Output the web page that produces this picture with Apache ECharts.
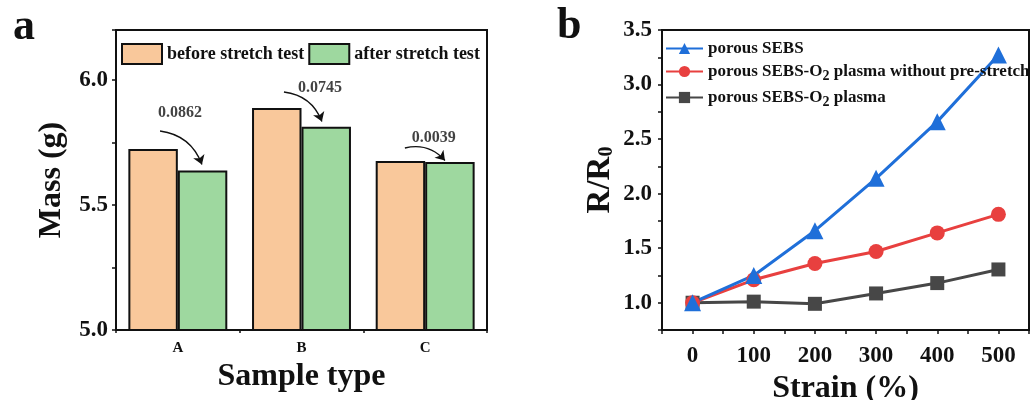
<!DOCTYPE html>
<html>
<head>
<meta charset="utf-8">
<script src="https://cdn.jsdelivr.net/npm/echarts@6/dist/echarts.min.js"></script>
<style>
  html, body { margin: 0; padding: 0; background: #fff; }
  #chart { width: 1032px; height: 400px; }
</style>
</head>
<body>
<div id="chart"></div>
<script>
// 图a 数据
var sampleTypes = ['A', 'B', 'C'];
var massBefore = [5.724, 5.888, 5.676];
var massAfter = [5.638, 5.8135, 5.672];
var massLoss = ['0.0862', '0.0745', '0.0039'];
var massTicks = ['5.0', '5.5', '6.0'];

// 图b 数据
var strain = [0, 100, 200, 300, 400, 500];
var rSebs = [1.0, 1.25, 1.66, 2.14, 2.66, 3.27];
var rPlasmaNoPre = [1.0, 1.21, 1.36, 1.47, 1.64, 1.81];
var rPlasma = [1.0, 1.01, 0.99, 1.085, 1.18, 1.305];
var ratioTicks = ['1.0', '1.5', '2.0', '2.5', '3.0', '3.5'];
var seriesNames = [
  'porous SEBS',
  'porous SEBS-O2 plasma without pre-stretch',
  'porous SEBS-O2 plasma'
];

// 注释位置 (隐藏的 0..3 数值轴坐标)
var notePos = [[0.517, 5.868], [1.65, 5.968], [2.57, 5.768]];
var arrowFrom = [[0.356, 5.796], [1.358, 5.952], [2.336, 5.728]];
var arrowTo = [[0.695, 5.662], [1.665, 5.834], [2.66, 5.678]];

var serif = "'Liberation Serif', 'Times New Roman', serif";
var ink = '#111';

function boldText(size) {
  return { fontFamily: serif, fontWeight: 'bold', fontSize: size, color: ink };
}

var chart = echarts.init(document.getElementById('chart'));

var noteData = [];
var arrowData = [];
for (var i = 0; i < massLoss.length; i++) {
  noteData.push([notePos[i][0], notePos[i][1], massLoss[i]]);
  arrowData.push({ coords: [arrowFrom[i], arrowTo[i]] });
}

var option = {
  backgroundColor: '#fff',
  animation: false,
  title: [
    { text: 'a', left: 8, top: 1, textStyle: boldText(44) },
    { text: 'b', left: 552, top: 0, textStyle: boldText(44) }
  ],
  legend: [
    {
      data: ['before stretch test', 'after stretch test'],
      left: 116, top: 38,
      itemWidth: 40, itemHeight: 20, itemGap: 4,
      icon: 'rect',
      textStyle: boldText(18)
    },
    {
      data: seriesNames,
      orient: 'vertical',
      left: 660, top: 35,
      itemWidth: 37, itemHeight: 14, itemGap: 6,
      formatter: function (name) {
        return name.replace('O2', 'O{sub|2}');
      },
      textStyle: {
        fontFamily: serif, fontWeight: 'bold', fontSize: 17, color: ink,
        rich: { sub: { fontFamily: serif, fontWeight: 'bold', fontSize: 14, color: ink, padding: [9, 0, 0, 0] } }
      }
    }
  ],
  grid: [
    { left: 116, right: 545, top: 30, bottom: 70, show: true, borderColor: ink, borderWidth: 2, outerBoundsMode: 'none' },
    { left: 662, right: 3, top: 30, bottom: 70, show: true, borderColor: ink, borderWidth: 2, outerBoundsMode: 'none' }
  ],
  xAxis: [
    {
      gridIndex: 0, type: 'category', data: sampleTypes,
      name: 'Sample type', nameLocation: 'middle', nameGap: 26,
      nameTextStyle: boldText(32),
      axisLine: { lineStyle: { color: ink, width: 2 } },
      axisTick: { alignWithLabel: true, length: 5, lineStyle: { color: ink, width: 1.5 } },
      axisLabel: Object.assign({ margin: 11 }, boldText(15)),
      splitLine: { show: false }
    },
    {
      gridIndex: 0, type: 'value', min: 0, max: 3, interval: 1, position: 'bottom',
      axisLine: { show: false },
      axisTick: { length: 3, lineStyle: { color: ink, width: 1.5 } },
      axisLabel: { show: false },
      splitLine: { show: false }
    },
    {
      gridIndex: 1, type: 'value', min: -50, max: 550, interval: 50,
      name: 'Strain (%)', nameLocation: 'middle', nameGap: 41,
      nameTextStyle: boldText(32),
      axisLine: { onZero: false, lineStyle: { color: ink, width: 2 } },
      axisTick: { length: 4, lineStyle: { color: ink, width: 1.5 } },
      axisLabel: Object.assign({
        margin: 15,
        formatter: function (v) { return strain.indexOf(v) >= 0 ? String(v) : ''; }
      }, boldText(23)),
      splitLine: { show: false }
    }
  ],
  yAxis: [
    {
      gridIndex: 0, type: 'value', min: 5, max: 6.2, interval: 0.25,
      name: 'Mass (g)', nameLocation: 'middle', nameGap: 48,
      nameTextStyle: boldText(32),
      axisLine: { lineStyle: { color: ink, width: 2 } },
      axisTick: { length: 4, lineStyle: { color: ink, width: 1.5 } },
      axisLabel: Object.assign({
        margin: 8,
        formatter: function (v) { var s = v.toFixed(1); return massTicks.indexOf(s) >= 0 && Math.abs(v - Number(s)) < 1e-6 ? s : ''; }
      }, boldText(23)),
      splitLine: { show: false }
    },
    {
      gridIndex: 1, type: 'value', min: 0.75, max: 3.5, interval: 0.25,
      name: 'R/R{sub|0}', nameLocation: 'middle', nameGap: 45,
      nameTextStyle: Object.assign({
        rich: { sub: { fontFamily: serif, fontWeight: 'bold', fontSize: 20, color: ink, padding: [14, 0, 0, 0] } }
      }, boldText(33)),
      axisLine: { onZero: false, lineStyle: { color: ink, width: 2 } },
      axisTick: { length: 4, lineStyle: { color: ink, width: 1.5 } },
      axisLabel: Object.assign({
        margin: 10,
        formatter: function (v) { var s = v.toFixed(1); return ratioTicks.indexOf(s) >= 0 && Math.abs(v - Number(s)) < 1e-6 ? s : ''; }
      }, boldText(23)),
      splitLine: { show: false }
    }
  ],
  series: [
    {
      name: 'before stretch test', type: 'bar', xAxisIndex: 0, yAxisIndex: 0,
      data: massBefore, barGap: '0%', barCategoryGap: '20%',
      itemStyle: { color: '#f9c89b', borderColor: ink, borderWidth: 2 }
    },
    {
      name: 'after stretch test', type: 'bar', xAxisIndex: 0, yAxisIndex: 0,
      data: massAfter,
      itemStyle: { color: '#9ed89f', borderColor: ink, borderWidth: 2 }
    },
    {
      name: 'notes', type: 'scatter', xAxisIndex: 1, yAxisIndex: 0,
      data: noteData, symbolSize: 1, silent: true,
      itemStyle: { color: 'rgba(0,0,0,0)' },
      label: {
        show: true, position: 'inside',
        formatter: function (p) { return p.value[2]; },
        fontFamily: serif, fontWeight: 'bold', fontSize: 16, color: ink
      }
    },
    {
      name: 'arrows', type: 'lines', coordinateSystem: 'cartesian2d',
      xAxisIndex: 1, yAxisIndex: 0, silent: true,
      symbol: ['none', 'arrow'], symbolSize: 9,
      lineStyle: { color: ink, width: 1.3, type: 'solid', curveness: 0.3, opacity: 1 },
      data: arrowData
    },
    {
      name: seriesNames[2], type: 'line', xAxisIndex: 2, yAxisIndex: 1,
      data: strain.map(function (x, i) { return [x, rPlasma[i]]; }),
      symbol: 'rect', symbolSize: 14,
      lineStyle: { color: '#474747', width: 3 },
      itemStyle: { color: '#474747' }
    },
    {
      name: seriesNames[1], type: 'line', xAxisIndex: 2, yAxisIndex: 1,
      data: strain.map(function (x, i) { return [x, rPlasmaNoPre[i]]; }),
      symbol: 'circle', symbolSize: 15,
      lineStyle: { color: '#e8403f', width: 3 },
      itemStyle: { color: '#e8403f' }
    },
    {
      name: seriesNames[0], type: 'line', xAxisIndex: 2, yAxisIndex: 1,
      data: strain.map(function (x, i) { return [x, rSebs[i]]; }),
      symbol: 'triangle', symbolSize: 17,
      lineStyle: { color: '#1f6fd9', width: 3 },
      itemStyle: { color: '#1f6fd9' }
    }
  ]
};

chart.setOption(option);
</script>
</body>
</html>
